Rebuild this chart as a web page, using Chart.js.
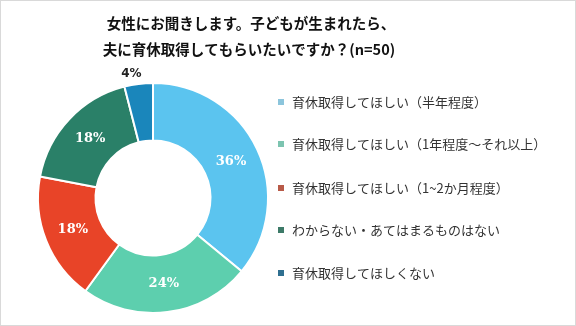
<!DOCTYPE html>
<html><head><meta charset="utf-8">
<script src="https://cdn.jsdelivr.net/npm/chart.js@4"></script>
<style>
html,body{margin:0;padding:0;background:#fff;}
#wrap{position:relative;width:576px;height:326px;box-sizing:border-box;border:1px solid #d9d9d9;}
canvas{position:absolute;left:0;top:0;}
</style></head>
<body><div id="wrap"><canvas id="c" width="576" height="326"></canvas></div>
<script>
const titleLines = ["女性にお聞きします。子どもが生まれたら、", "夫に育休取得してもらいたいですか？(n=50)"];
const categories = ["育休取得してほしい（半年程度）", "育休取得してほしい（1年程度～それ以上）", "育休取得してほしい（1~2か月程度）", "わからない・あてはまるものはない", "育休取得してほしくない"];
const values = [36, 24, 18, 18, 4];
const colors = ["#5bc4ef", "#5dcfae", "#e84428", "#2a8068", "#1a86bb"];
const legendColors = ["#8cc5dc", "#7cc4b0", "#b85a48", "#3d7a68", "#2f6f90"];

const overlay = {
  id: 'overlay',
  afterDraw(chart) {
    const ctx = chart.ctx;
    ctx.save();
    ctx.fillStyle = '#111';
    ctx.font = 'bold 14.5px "Noto Sans CJK JP"';
    ctx.textAlign = 'center';
    ctx.textBaseline = 'middle';
    ctx.fillText(titleLines[0], 250, 22);
    ctx.fillText(titleLines[1], 248, 48);
    const meta = chart.getDatasetMeta(0);
    meta.data.forEach((arc, i) => {
      const p = arc.getProps(['x','y','startAngle','endAngle','innerRadius','outerRadius'], true);
      const mid = (p.startAngle + p.endAngle) / 2;
      const txt = values[i] + '%';
      if (values[i] < 10) {
        const r = p.outerRadius + 10;
        ctx.fillStyle = '#222';
        ctx.font = 'bold 12px "DejaVu Sans"';
        ctx.fillText(txt, p.x + r * Math.cos(mid) - 6, p.y + r * Math.sin(mid));
      } else {
        const r = (p.innerRadius + p.outerRadius) / 2;
        ctx.fillStyle = '#fff';
        ctx.font = 'bold 13px "DejaVu Serif"';
        ctx.fillText(txt, p.x + r * Math.cos(mid), p.y + r * Math.sin(mid));
      }
    });
    ctx.textAlign = 'left';
    ctx.font = '13px "Noto Sans CJK JP"';
    const ys = [101, 143, 187, 229, 272];
    categories.forEach((c, i) => {
      ctx.fillStyle = legendColors[i];
      ctx.fillRect(277, ys[i] - 3, 6, 6);
      ctx.fillStyle = '#333';
      ctx.fillText(c, 291, ys[i]);
    });
    ctx.restore();
  }
};

new Chart(document.getElementById('c'), {
  type: 'doughnut',
  data: { labels: categories, datasets: [{ data: values, backgroundColor: colors, borderColor: '#fff', borderWidth: 2 }] },
  options: {
    responsive: false, animation: false, cutout: '50%',
    layout: { padding: { left: 36, right: 308, top: 81, bottom: 13 } },
    plugins: { legend: { display: false }, tooltip: { enabled: false }, title: { display: false } }
  },
  plugins: [overlay]
});
</script></body></html>
